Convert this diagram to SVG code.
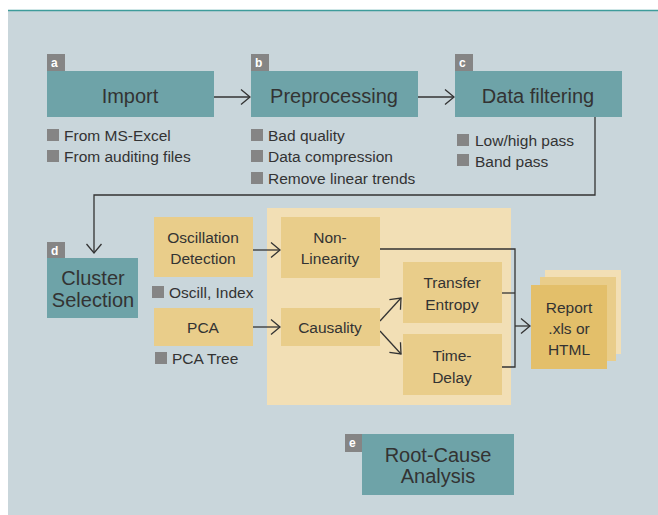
<svg xmlns="http://www.w3.org/2000/svg" width="658" height="515" viewBox="0 0 658 515">
<defs>
<style>
.bg{fill:#c9d6db}
.teal{fill:#6ea3a8}
.yel{fill:#e9cd8a}
.panel{fill:#f2dfb5}
.lab{fill:#858585}
.labt{font-family:"Liberation Sans",Arial,sans-serif;font-size:12px;font-weight:bold;fill:#ffffff}
.big{font-family:"Liberation Sans",Arial,sans-serif;font-size:20px;fill:#333333;text-anchor:middle}
.mid{font-family:"Liberation Sans",Arial,sans-serif;font-size:15.5px;fill:#333333;text-anchor:middle}
.bul{font-family:"Liberation Sans",Arial,sans-serif;font-size:15.5px;fill:#333333}
.sq{fill:#858585}
.ln{fill:none;stroke:#333333;stroke-width:1.3}
</style>
<marker id="arr" markerUnits="userSpaceOnUse" viewBox="-11 -9 12 18" refX="0" refY="0" markerWidth="12" markerHeight="18" orient="auto">
<path d="M-9,-7.5 L0,0 L-9,7.5" fill="none" stroke="#333333" stroke-width="1.3"/>
</marker>
</defs>
<rect x="0" y="0" width="658" height="515" fill="#ffffff"/>
<rect class="bg" x="8" y="10" width="650" height="505"/>
<line x1="8" y1="10.5" x2="658" y2="10.5" stroke="#3e9c9b" stroke-width="1.5"/>

<g id="panel"><rect class="panel" x="267" y="208" width="244" height="197"/></g>

<g id="connectors">
<line class="ln" x1="214" y1="97" x2="250" y2="97" marker-end="url(#arr)"/>
<line class="ln" x1="418" y1="97" x2="454" y2="97" marker-end="url(#arr)"/>
<polyline class="ln" points="595,117 595,195 94,195 94,253" marker-end="url(#arr)"/>
<line class="ln" x1="253" y1="250" x2="280" y2="250" marker-end="url(#arr)"/>
<line class="ln" x1="253" y1="327" x2="280" y2="327" marker-end="url(#arr)"/>
<line class="ln" x1="380" y1="321" x2="401" y2="298" marker-end="url(#arr)"/>
<line class="ln" x1="380" y1="331" x2="401" y2="354" marker-end="url(#arr)"/>
<polyline class="ln" points="380,249 515,249 515,367 502,367"/>
<line class="ln" x1="502" y1="293" x2="515" y2="293"/>
<line class="ln" x1="515" y1="326" x2="530" y2="326" marker-end="url(#arr)"/>
</g>

<g id="import">
<rect class="lab" x="47" y="54" width="18" height="17"/>
<text class="labt" x="51" y="67">a</text>
<rect class="teal" x="47" y="71" width="167" height="46"/>
<text class="big" x="130" y="103">Import</text>
<rect class="sq" x="47" y="129" width="12" height="12"/>
<text class="bul" x="64" y="141">From MS-Excel</text>
<rect class="sq" x="47" y="150" width="12" height="12"/>
<text class="bul" x="64" y="162">From auditing files</text>
</g>

<g id="preprocessing">
<rect class="lab" x="251" y="54" width="18" height="17"/>
<text class="labt" x="255" y="67">b</text>
<rect class="teal" x="251" y="71" width="167" height="46"/>
<text class="big" x="334" y="103">Preprocessing</text>
<rect class="sq" x="251" y="129" width="12" height="12"/>
<text class="bul" x="268" y="141">Bad quality</text>
<rect class="sq" x="251" y="150" width="12" height="12"/>
<text class="bul" x="268" y="162">Data compression</text>
<rect class="sq" x="251" y="172" width="12" height="12"/>
<text class="bul" x="268" y="184">Remove linear trends</text>
</g>

<g id="filtering">
<rect class="lab" x="455" y="54" width="18" height="17"/>
<text class="labt" x="459" y="67">c</text>
<rect class="teal" x="455" y="71" width="167" height="46"/>
<text class="big" x="538" y="103">Data filtering</text>
<rect class="sq" x="457" y="134" width="12" height="12"/>
<text class="bul" x="475" y="146">Low/high pass</text>
<rect class="sq" x="457" y="154" width="12" height="12"/>
<text class="bul" x="475" y="167">Band pass</text>
</g>

<g id="cluster">
<rect class="lab" x="47" y="242" width="18" height="17"/>
<text class="labt" x="51" y="255">d</text>
<rect class="teal" x="47" y="258" width="91" height="60"/>
<text class="big" x="93" y="285">Cluster</text>
<text class="big" x="93" y="307">Selection</text>
</g>

<g id="oscillation">
<rect class="yel" x="154" y="217" width="99" height="60"/>
<text class="mid" x="203" y="243">Oscillation</text>
<text class="mid" x="203" y="264">Detection</text>
<rect class="sq" x="152" y="286" width="12" height="12"/>
<text class="bul" x="169" y="298">Oscill, Index</text>
</g>

<g id="pca">
<rect class="yel" x="154" y="308" width="99" height="38"/>
<text class="mid" x="203" y="333">PCA</text>
<rect class="sq" x="155" y="352" width="12" height="12"/>
<text class="bul" x="172" y="364">PCA Tree</text>
</g>

<g id="nonlinearity">
<rect class="yel" x="281" y="217" width="99" height="61"/>
<text class="mid" x="330" y="243">Non-</text>
<text class="mid" x="330" y="264">Linearity</text>
</g>

<g id="causality">
<rect class="yel" x="281" y="308" width="99" height="38"/>
<text class="mid" x="330" y="333">Causality</text>
</g>

<g id="transfer">
<rect class="yel" x="403" y="262" width="99" height="61"/>
<text class="mid" x="452" y="288">Transfer</text>
<text class="mid" x="452" y="310">Entropy</text>
</g>

<g id="timedelay">
<rect class="yel" x="403" y="334" width="99" height="61"/>
<text class="mid" x="452" y="361">Time-</text>
<text class="mid" x="452" y="383">Delay</text>
</g>

<g id="report">
<rect x="545" y="270" width="76" height="84" fill="#f2dfb5"/>
<rect x="540" y="277" width="76" height="84" fill="#e9cd8a"/>
<rect x="531" y="285" width="76" height="84" fill="#e3bf6a"/>
<text class="mid" x="569" y="313">Report</text>
<text class="mid" x="569" y="334">.xls or</text>
<text class="mid" x="569" y="355">HTML</text>
</g>

<g id="rootcause">
<rect class="lab" x="345" y="434" width="18" height="18"/>
<text class="labt" x="349" y="447">e</text>
<rect class="teal" x="362" y="434" width="152" height="61"/>
<text class="big" x="438" y="462">Root-Cause</text>
<text class="big" x="438" y="483">Analysis</text>
</g>
</svg>
